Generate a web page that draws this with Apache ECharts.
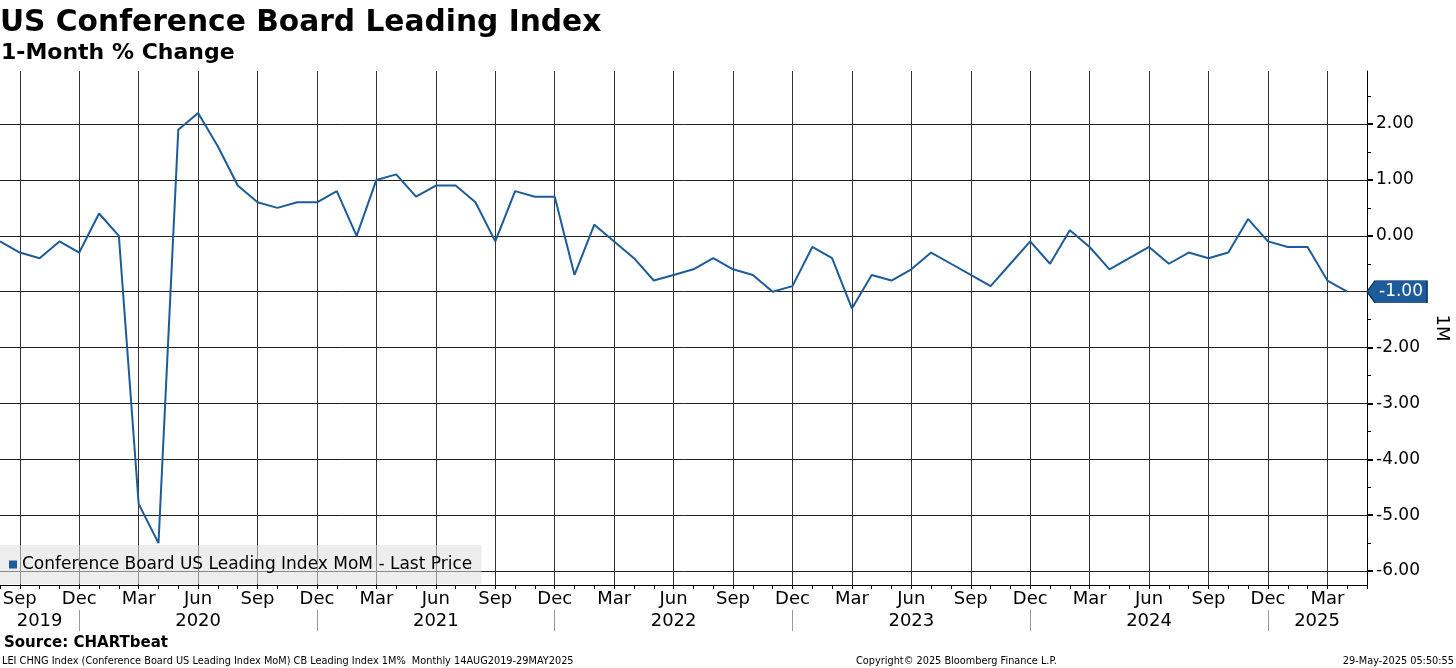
<!DOCTYPE html>
<html>
<head>
<meta charset="utf-8">
<script src="https://cdn.jsdelivr.net/npm/echarts@6/dist/echarts.min.js"></script>
<style>
  html, body { margin: 0; padding: 0; background: #fff; }
  #chart { width: 1456px; height: 668px; }
</style>
</head>
<body>
<div id="chart"></div>
<script>
// ---- data ----
const categories = [
  'Aug 2019','Sep 2019','Oct 2019','Nov 2019','Dec 2019',
  'Jan 2020','Feb 2020','Mar 2020','Apr 2020','May 2020','Jun 2020','Jul 2020','Aug 2020','Sep 2020','Oct 2020','Nov 2020','Dec 2020',
  'Jan 2021','Feb 2021','Mar 2021','Apr 2021','May 2021','Jun 2021','Jul 2021','Aug 2021','Sep 2021','Oct 2021','Nov 2021','Dec 2021',
  'Jan 2022','Feb 2022','Mar 2022','Apr 2022','May 2022','Jun 2022','Jul 2022','Aug 2022','Sep 2022','Oct 2022','Nov 2022','Dec 2022',
  'Jan 2023','Feb 2023','Mar 2023','Apr 2023','May 2023','Jun 2023','Jul 2023','Aug 2023','Sep 2023','Oct 2023','Nov 2023','Dec 2023',
  'Jan 2024','Feb 2024','Mar 2024','Apr 2024','May 2024','Jun 2024','Jul 2024','Aug 2024','Sep 2024','Oct 2024','Nov 2024','Dec 2024',
  'Jan 2025','Feb 2025','Mar 2025','Apr 2025','May 2025'
];
const values = [
  -0.1, -0.3, -0.4, -0.1, -0.3,
  0.4, 0.0, -4.8, -5.5, 1.9, 2.2, 1.6, 0.9, 0.6, 0.5, 0.6, 0.6,
  0.8, 0.0, 1.0, 1.1, 0.7, 0.9, 0.9, 0.6, -0.1, 0.8, 0.7, 0.7,
  -0.7, 0.2, -0.1, -0.4, -0.8, -0.7, -0.6, -0.4, -0.6, -0.7, -1.0, -0.9,
  -0.2, -0.4, -1.3, -0.7, -0.8, -0.6, -0.3, -0.5, -0.7, -0.9, -0.5, -0.1,
  -0.5, 0.1, -0.2, -0.6, -0.4, -0.2, -0.5, -0.3, -0.4, -0.3, 0.3, -0.1,
  -0.2, -0.2, -0.8, -1.0, null
];
const quarterMonths = ['Mar', 'Jun', 'Sep', 'Dec'];
const yearSeparatorMonth = 'Dec';
const yearLabels = {
  'Oct 2019': '2019', 'Jun 2020': '2020', 'Jun 2021': '2021', 'Jun 2022': '2022',
  'Jun 2023': '2023', 'Jun 2024': '2024', 'Feb 2025': '2025'
};
const yTicks = [-6, -5, -4, -3, -2, -1, 0, 1, 2];
const yMinorTicks = [-5.5, -4.5, -3.5, -2.5, -1.5, -0.5, 0.5, 1.5, 2.5];
const seriesName = 'Conference Board US Leading Index MoM - Last Price';

// last available value
let lastIdx = values.length - 1;
while (values[lastIdx] == null) lastIdx--;
const lastValue = values[lastIdx];
const axisEndCategory = categories[categories.length - 1];

const FONT = 'DejaVu Sans';
const BLUE = '#1d5b9b';
const monthOf = v => v.split(' ')[0];
const isQuarter = (i, v) => quarterMonths.indexOf(monthOf(v)) >= 0;

const chart = echarts.init(document.getElementById('chart'), null, { renderer: 'canvas' });
chart.setOption({
  animation: false,
  backgroundColor: '#fff',
  textStyle: { fontFamily: FONT },
  title: [
    { text: 'US Conference Board Leading Index', left: 0, top: 8, padding: 0,
      textStyle: { fontFamily: FONT, fontSize: 29.7, fontWeight: 'bold', color: '#000' } },
    { text: '1-Month % Change', left: 1, top: 42, padding: 0,
      textStyle: { fontFamily: FONT, fontSize: 22, fontWeight: 'bold', color: '#000' } },
    { text: 'Source: CHARTbeat', left: 4, top: 636, padding: 0,
      textStyle: { fontFamily: FONT, fontSize: 15, fontWeight: 'bold', color: '#000' } },
    { text: 'LEI CHNG Index (Conference Board US Leading Index MoM) CB Leading Index 1M%  Monthly 14AUG2019-29MAY2025',
      left: 2, top: 656, padding: 0,
      textStyle: { fontFamily: FONT, fontSize: 9.75, fontWeight: 'normal', color: '#000' } },
    { text: 'Copyright\u00A9 2025 Bloomberg Finance L.P.', left: 856, top: 656, padding: 0,
      textStyle: { fontFamily: FONT, fontSize: 9.75, fontWeight: 'normal', color: '#000' } },
    { text: '29-May-2025 05:50:55', right: 2, top: 656, padding: 0,
      textStyle: { fontFamily: FONT, fontSize: 9.75, fontWeight: 'normal', color: '#000' } }
  ],
  legend: {
    left: 0, top: 545,
    padding: [11, 9, 11, 9],
    backgroundColor: 'rgba(222,222,222,0.55)',
    icon: 'rect', itemWidth: 8, itemHeight: 8,
    textStyle: { fontFamily: FONT, fontSize: 17, color: '#000' },
    data: [seriesName]
  },
  grid: { left: 0, right: 89, top: 71, bottom: 83, containLabel: false, outerBoundsMode: 'none' },
  xAxis: [
    {
      type: 'category', data: categories, boundaryGap: false, position: 'bottom',
      axisLine: { show: true, onZero: false, lineStyle: { color: '#000', width: 1 } },
      axisTick: { show: true, interval: 0, length: 4, lineStyle: { color: '#000' } },
      axisLabel: { interval: isQuarter, formatter: v => monthOf(v), fontFamily: FONT, fontSize: 18, color: '#000', margin: 5 },
      splitLine: { show: true, interval: isQuarter, lineStyle: { color: '#333', width: 1 } }
    },
    {
      type: 'category', data: categories, boundaryGap: false, position: 'bottom', offset: 25,
      axisLine: { show: false, onZero: false },
      axisTick: { show: true, interval: (i, v) => monthOf(v) === yearSeparatorMonth, length: 21, lineStyle: { color: '#999' } },
      axisLabel: {
        interval: (i, v) => yearLabels[v] !== undefined,
        formatter: v => (v === 'Feb 2025' ? '{s|' + yearLabels[v] + '}' : yearLabels[v]),
        fontFamily: FONT, fontSize: 18, color: '#000', margin: 2,
        rich: { s: { fontFamily: FONT, fontSize: 18, color: '#000', padding: [0, 0, 0, 19] } }
      },
      splitLine: { show: false }
    }
  ],
  yAxis: [
    {
      type: 'value', position: 'right', min: -6.25, max: 2.95,
      axisLine: { show: true, onZero: false, lineStyle: { color: '#000', width: 1 } },
      axisTick: { show: true, customValues: yTicks, length: 6, lineStyle: { color: '#000', width: 2 } },
      axisLabel: { customValues: yTicks, formatter: v => v.toFixed(2), fontFamily: FONT, fontSize: 17, color: '#000', margin: 9 },
      splitLine: { show: true, lineStyle: { color: '#222', width: 1 } },
      name: '1M', nameLocation: 'middle', nameRotate: -90, nameGap: 66,
      nameTextStyle: { fontFamily: FONT, fontSize: 18, color: '#000' }
    },
    {
      type: 'value', position: 'right', min: -6.25, max: 2.95,
      axisLine: { show: false, onZero: false },
      axisTick: { show: true, customValues: yMinorTicks, length: 4, lineStyle: { color: '#000' } },
      axisLabel: { show: false, customValues: yMinorTicks },
      splitLine: { show: false }
    }
  ],
  series: [
    {
      name: seriesName, type: 'line', data: values, xAxisIndex: 0, yAxisIndex: 0,
      symbol: 'none', clip: false,
      lineStyle: { color: BLUE, width: 2 }, itemStyle: { color: BLUE },
      markPoint: {
        silent: true,
        symbol: 'path://M0,11 L8,0 L60,0 L60,22 L8,22 Z',
        symbolSize: [60, 22], symbolKeepAspect: false, symbolOffset: [30, 0],
        itemStyle: { color: BLUE, borderColor: '#0d3560', borderWidth: 1 },
        label: { show: true, color: '#fff', fontFamily: FONT, fontSize: 17, offset: [4, 0],
                 formatter: p => Number(p.value).toFixed(2) },
        data: [{ coord: [axisEndCategory, lastValue], value: lastValue }]
      }
    }
  ]
});
</script>
</body>
</html>
